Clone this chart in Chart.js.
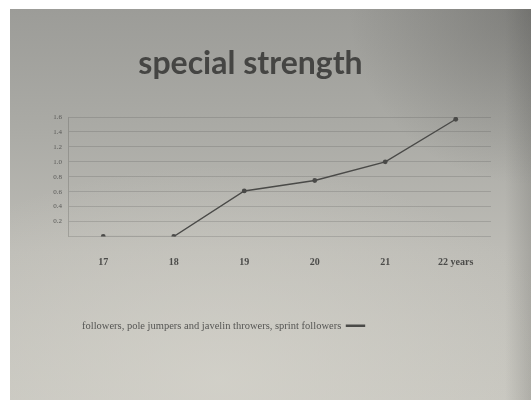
<!DOCTYPE html>
<html>
<head>
<meta charset="utf-8">
<script src="https://cdn.jsdelivr.net/npm/chart.js@4.4.1/dist/chart.umd.min.js"></script>
<style>
  html, body { margin: 0; padding: 0; background: #ffffff; }
  #wrap { position: relative; width: 531px; height: 400px; overflow: hidden; }
  #sheet {
    position: absolute; left: 10px; top: 9px; width: 521px; height: 391px;
    background:
      radial-gradient(ellipse 35% 45% at 100% 0%, rgba(70,70,68,0.35), rgba(70,70,68,0) 100%),
      linear-gradient(90deg, rgba(60,60,58,0) 95%, rgba(60,60,58,0.18) 100%),
      radial-gradient(ellipse 70% 55% at 40% 95%, rgba(214,212,204,0.7), rgba(214,212,204,0) 100%),
      linear-gradient(180deg, #9c9c98 0%, #aaaaa5 30%, #bdbcb6 62%, #c7c6bf 100%);
  }
  #c { position: absolute; left: 0; top: 0; }
</style>
</head>
<body>
<div id="wrap">
  <div id="sheet"></div>
  <canvas id="c" width="531" height="400"></canvas>
</div>
<script>
// Age groups along the x axis
const ageLabels = ['17', '18', '19', '20', '21', '22 years'];
// Special strength index per age
const strengthValues = [0, 0, 0.61, 0.75, 1.0, 1.57];
// Value axis ticks
const yTickValues = [0, 0.2, 0.4, 0.6, 0.8, 1.0, 1.2, 1.4, 1.6];
const seriesName = 'followers, pole jumpers and javelin throwers, sprint followers';

const ink = '#4a4a48';

new Chart(document.getElementById('c'), {
  type: 'line',
  data: {
    labels: ageLabels,
    datasets: [{
      label: seriesName,
      data: strengthValues,
      borderColor: ink,
      backgroundColor: 'rgba(74,74,72,0.45)',
      borderWidth: 1.4,
      pointRadius: 2.4,
      pointBackgroundColor: ink,
      pointBorderWidth: 0,
      tension: 0,
      segment: {
        borderColor: ctx => ctx.p0DataIndex === 0 ? 'rgba(74,74,72,0.12)' : undefined
      }
    }]
  },
  options: {
    responsive: false,
    animation: false,
    devicePixelRatio: 1,
    layout: { padding: { left: 10, right: 40, top: 9, bottom: 59 } },
    scales: {
      x: {
        offset: true,
        grid: { display: false, drawTicks: false },
        border: { display: false },
        ticks: {
          padding: 20,
          color: '#4c4c4a',
          font: { family: 'Liberation Serif', size: 10, weight: 'bold' },
          maxRotation: 0,
          autoSkip: false
        },
        afterFit: s => { s.height = 70; }
      },
      y: {
        min: 0,
        max: 1.6,
        afterBuildTicks: s => { s.ticks = yTickValues.map(v => ({ value: v })); },
        grid: { color: 'rgba(70,70,68,0.2)', lineWidth: 1, drawTicks: false },
        border: { display: true, color: 'rgba(70,70,68,0.25)' },
        ticks: {
          padding: 6,
          color: '#5a5a58',
          font: { family: 'Liberation Serif', size: 7 },
          callback: v => v === 0 ? '' : v.toFixed(1)
        },
        afterFit: s => { s.width = 58; }
      }
    },
    plugins: {
      title: {
        display: true,
        text: 'special strength',
        color: '#454543',
        font: { family: 'Lato', size: 32, weight: 'bold', lineHeight: 1.2 },
        padding: { top: 35, bottom: 34.6 }
      },
      legend: {
        display: true,
        position: 'bottom',
        fullSize: false,
        align: 'end',
        rtl: true,
        labels: {
          color: '#555553',
          font: { family: 'Liberation Serif', size: 10.5 },
          boxWidth: 18,
          boxHeight: 1,
          padding: 14
        }
      },
      tooltip: { enabled: false }
    }
  }
});
</script>
</body>
</html>
